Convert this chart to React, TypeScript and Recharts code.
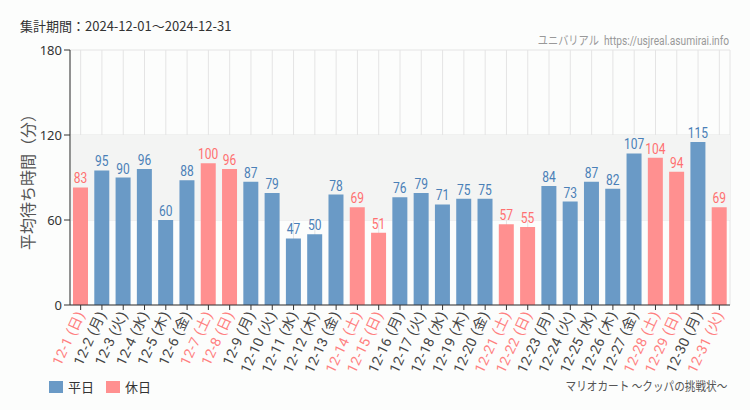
import { BarChart, Bar, XAxis, YAxis, CartesianGrid, ReferenceArea, LabelList, Cell } from "recharts";

const DATES = [
  "12-1", "12-2", "12-3", "12-4", "12-5", "12-6", "12-7", "12-8", "12-9", "12-10",
  "12-11", "12-12", "12-13", "12-14", "12-15", "12-16", "12-17", "12-18", "12-19", "12-20",
  "12-21", "12-22", "12-23", "12-24", "12-25", "12-26", "12-27", "12-28", "12-29", "12-30", "12-31",
];
const WEEKDAYS = [
  "日", "月", "火", "水", "木", "金", "土", "日", "月", "火",
  "水", "木", "金", "土", "日", "月", "火", "水", "木", "金",
  "土", "日", "月", "火", "水", "木", "金", "土", "日", "月", "火",
];
const HOLIDAY = [
  true, false, false, false, false, false, true, true, false, false,
  false, false, false, true, true, false, false, false, false, false,
  true, true, false, false, false, false, false, true, true, false, true,
];
const WAIT = [
  83, 95, 90, 96, 60, 88, 100, 96, 87, 79,
  47, 50, 78, 69, 51, 76, 79, 71, 75, 75,
  57, 55, 84, 73, 87, 82, 107, 104, 94, 115, 69,
];
const Y_TICKS = [0, 60, 120, 180];

const BLUE = "#6a9ac6";
const PINK = "#ff9090";
const BLUE_TEXT = "#4a80b7";
const PINK_TEXT = "#ff7070";

const data = DATES.map((d, i) => ({
  label: `${d} (${WEEKDAYS[i]})`,
  value: WAIT[i],
  holiday: HOLIDAY[i],
}));

const CJK = "'Noto Sans CJK JP', 'Noto Sans', sans-serif";
const TICKFONT = "Roboto, 'Noto Sans CJK JP', sans-serif";

function DateTick(props: any) {
  const { x, y, payload, index } = props;
  const hol = HOLIDAY[index];
  return (
    <g transform={`translate(${x},${y})`}>
      <text
        textAnchor="end"
        transform="rotate(-65)"
        dy="0.35em"
        fontSize={14}
        letterSpacing={0.4}
        fontFamily={TICKFONT}
        fill={hol ? "#ff8080" : "#444"}
      >
        {payload.value}
      </text>
    </g>
  );
}

function BarValue(props: any) {
  const { x, y, width, value, index } = props;
  const cx = x + width / 2;
  return (
    <g transform={`translate(${cx},${y - 4}) scale(0.8,1)`}>
      <text
        x={0}
        y={0}
        textAnchor="middle"
        fontSize={15}
        fontFamily="Roboto, sans-serif"
        fill={HOLIDAY[index] ? PINK_TEXT : BLUE_TEXT}
      >
        {value}
      </text>
    </g>
  );
}

export default function App() {
  return (
    <div
      style={{
        position: "absolute",
        left: 0,
        top: 0,
        width: 750,
        height: 410,
        background: "#fcfdfc",
        fontFamily: CJK,
      }}
    >
      <div style={{ position: "absolute", left: 20, top: 16, fontSize: 13, color: "#333" }}>
        集計期間：2024-12-01～2024-12-31
      </div>
      <div
        style={{
          position: "absolute",
          right: 21,
          top: 31,
          fontSize: 12,
          color: "#999",
          fontFamily: "Roboto, 'Noto Sans CJK JP', sans-serif",
          transform: "scaleX(0.85)",
          transformOrigin: "right center",
        }}
      >
        ユニバリアル&nbsp; https://usjreal.asumirai.info
      </div>

      <BarChart
        width={750}
        height={410}
        data={data}
        margin={{ top: 50, right: 20, left: 0, bottom: 45 }}
        barCategoryGap={3}
      >
        <ReferenceArea y1={60} y2={120} fill="#f3f4f3" fillOpacity={1} stroke="none" ifOverflow="hidden" />
        <CartesianGrid stroke="#e4e4e4" />
        <XAxis
          dataKey="label"
          interval={0}
          height={60}
          tick={<DateTick />}
          tickSize={5}
          stroke="#333"
          axisLine={{ stroke: "#333" }}
          tickLine={{ stroke: "#333" }}
        />
        <YAxis
          width={70}
          domain={[0, 180]}
          ticks={Y_TICKS}
          tickSize={6}
          tick={{ fill: "#333", fontSize: 13, fontFamily: "'Noto Sans', sans-serif" }}
          axisLine={{ stroke: "#333" }}
          tickLine={{ stroke: "#333" }}
        />
        <Bar dataKey="value" barSize={15} isAnimationActive={false}>
          {data.map((d, i) => (
            <Cell key={i} fill={d.holiday ? PINK : BLUE} />
          ))}
          <LabelList dataKey="value" content={<BarValue />} />
        </Bar>
        <text
          x={30}
          y={178}
          transform="rotate(-90 30 178)"
          textAnchor="middle"
          dominantBaseline="middle"
          fontSize={16}
          fontFamily={CJK}
          fill="#555"
        >
          平均待ち時間（分）
        </text>
      </BarChart>

      <div style={{ position: "absolute", left: 49, top: 377, display: "flex", alignItems: "center", fontSize: 13, color: "#333" }}>
        <span style={{ display: "inline-block", width: 14, height: 12, background: BLUE, marginRight: 5 }} />
        <span style={{ marginRight: 12 }}>平日</span>
        <span style={{ display: "inline-block", width: 14, height: 12, background: PINK, marginRight: 5 }} />
        <span>休日</span>
      </div>
      <div
        style={{
          position: "absolute",
          right: 23,
          top: 376,
          fontSize: 12.5,
          color: "#555",
          fontFamily: CJK,
          transform: "scaleX(0.85)",
          transformOrigin: "right center",
        }}
      >
        マリオカート ～クッパの挑戦状～
      </div>
    </div>
  );
}
